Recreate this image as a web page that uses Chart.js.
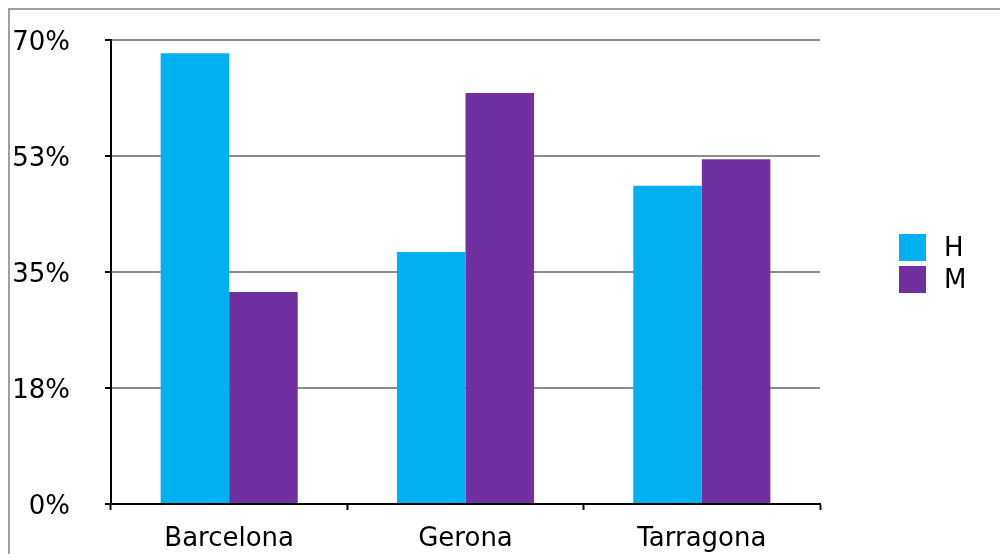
<!DOCTYPE html>
<html>
<head>
<meta charset="utf-8">
<script src="https://cdn.jsdelivr.net/npm/chart.js@4/dist/chart.umd.min.js"></script>
<style>
  body { margin: 0; background: #fff; overflow: hidden; }
  #wrap { position: relative; width: 1000px; height: 554px; }
  #frame { position: absolute; left: 8px; top: 8px; width: 1000px; height: 560px;
           border-top: 2px solid #a0a0a0; border-left: 2px solid #a0a0a0; }
  #grafico { position: absolute; left: 0; top: 0; }
  .leyenda { position: absolute; left: 899px; font: 26px "DejaVu Sans", sans-serif; color: #000; }
  .leyenda div { height: 32px; display: flex; align-items: center; }
  .leyenda span.caja { display: inline-block; width: 27px; height: 27px; margin-right: 18px; }
</style>
</head>
<body>
<div id="wrap">
  <div id="frame"></div>
  <canvas id="grafico" width="1000" height="554"></canvas>
  <div class="leyenda" id="leyenda" style="top:231px"></div>
</div>
<script>
// datos
var provincias = ['Barcelona', 'Gerona', 'Tarragona'];
var hombres = [68, 38, 48];
var mujeres = [32, 62, 52];
var series = ['H', 'M'];
var colores = ['#00b0f0', '#7030a0'];
var ticksY = [0, 17.5, 35, 52.5, 70];

var ctx = document.getElementById('grafico').getContext('2d');
var chart = new Chart(ctx, {
    type: 'bar',
    data: {
        labels: provincias,
        datasets: [{
            label: series[0],
            backgroundColor: colores[0],
            data: hombres
        }, {
            label: series[1],
            backgroundColor: colores[1],
            data: mujeres
        }]
    },
    options: {
        responsive: false,
        animation: false,
        layout: { padding: { left: 0, right: 180, top: 0, bottom: 0 } },
        plugins: {
            legend: { display: false },
            tooltip: { enabled: false }
        },
        datasets: {
            bar: { categoryPercentage: 0.58, barPercentage: 1.0 }
        },
        scales: {
            x: {
                grid: {
                    offset: true,
                    drawOnChartArea: false,
                    tickColor: '#000',
                    tickLength: 6,
                    tickWidth: 2
                },
                border: { color: '#000', width: 2 },
                ticks: {
                    color: '#000',
                    padding: 14,
                    font: { family: 'DejaVu Sans', size: 26 }
                },
                afterFit: function(scale) { scale.height = 50; }
            },
            y: {
                min: 0,
                max: 70,
                afterBuildTicks: function(scale) {
                    scale.ticks = ticksY.map(function(v) { return { value: v }; });
                },
                grid: {
                    color: function(c) { return c.tick && c.tick.value === 0 ? 'rgba(0,0,0,0)' : '#8c8c8c'; },
                    lineWidth: 2,
                    tickColor: '#000',
                    tickLength: 6,
                    tickWidth: 2
                },
                border: { color: '#000', width: 2 },
                ticks: {
                    color: '#000',
                    padding: 35,
                    labelOffset: 3,
                    font: { family: 'DejaVu Sans', size: 26 },
                    callback: function(v) { return Math.round(v) + '%'; }
                },
                afterFit: function(scale) {
                    // area de trazado de 40 a 504 como en la imagen
                    scale.width = 111;
                    scale.paddingTop = 40;
                    scale.paddingBottom = 0;
                }
            }
        }
    }
});

// leyenda en html
var ley = document.getElementById('leyenda');
series.forEach(function(s, i) {
    var fila = document.createElement('div');
    fila.innerHTML = '<span class="caja" style="background:' + colores[i] + '"></span>' + s;
    ley.appendChild(fila);
});
</script>
</body>
</html>
